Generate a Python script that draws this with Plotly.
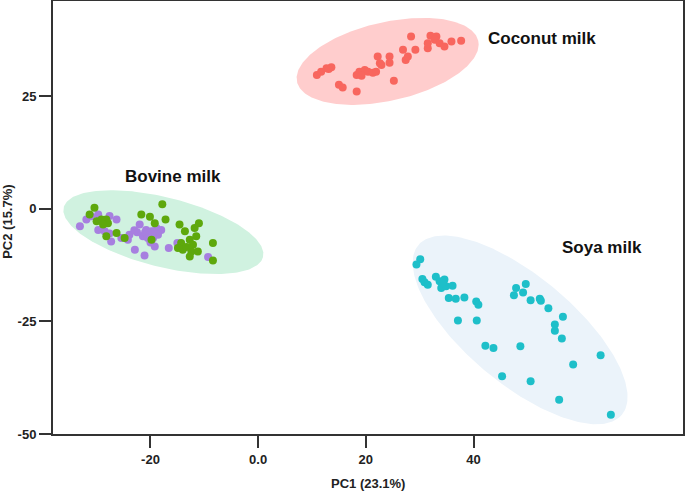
import numpy as np
import plotly.graph_objects as go

# ---------------- data ----------------
coconut_x = [10.9, 11.7, 12.7, 13.6, 13.1, 15.0, 15.7, 18.3, 18.3, 18.8, 19.8, 20.4, 21.3, 21.9,
             19.2, 22.2, 22.6, 22.9, 24.4, 24.4, 25.2, 26.9, 27.4, 27.8, 28.4, 29.2, 31.5, 31.5,
             32.0, 33.1, 32.8, 33.7, 34.6, 35.9, 37.7]
coconut_y = [29.7, 30.4, 31.2, 31.4, 31.0, 27.5, 26.9, 26.0, 29.7, 30.4, 30.8, 30.4, 30.2, 30.4,
             29.5, 33.8, 32.3, 31.9, 33.8, 32.4, 28.4, 35.3, 33.0, 33.8, 38.2, 35.3, 35.6, 36.7,
             38.4, 38.2, 37.5, 36.7, 36.0, 37.1, 37.3]

bovine_green_x = [-30.4, -31.3, -30.0, -29.1, -28.2, -27.9, -28.8, -26.3, -28.2, -24.8, -21.7,
                  -20.1, -19.2, -17.8, -17.2, -19.8, -14.6, -13.6, -11.8, -11.0, -11.5, -12.7,
                  -14.3, -14.9, -14.0, -12.4, -11.2, -12.7, -8.4, -8.4, -12.1, -13.3]
bovine_green_y = [0.2, -1.3, -2.8, -2.4, -2.4, -3.2, -3.5, -5.4, -6.1, -6.5, -1.3,
                  -1.8, -3.2, 1.0, -2.4, -6.9, -3.5, -5.0, -4.3, -3.2, -6.1, -6.9,
                  -7.6, -8.7, -9.1, -9.5, -9.5, -10.6, -7.6, -11.5, -8.0, -8.5]

bovine_purple_x = [-33.1, -31.9, -31.0, -29.7, -27.6, -26.3, -29.7, -28.5, -27.6, -27.3, -23.9,
                   -24.2, -25.4, -22.9, -21.1, -22.0, -20.8, -20.1, -18.9, -18.0, -18.6, -19.5,
                   -21.4, -19.2, -16.6, -15.0, -9.3, -21.0, -20.5, -19.8, -22.5, -20.0, -23.0]
bovine_purple_y = [-3.9, -2.4, -1.7, -1.3, -1.6, -2.4, -4.7, -5.0, -5.5, -7.3, -5.8,
                   -6.9, -6.5, -9.1, -10.4, -3.5, -4.7, -5.8, -4.3, -4.7, -5.8, -6.5,
                   -6.1, -8.4, -8.7, -7.6, -10.7, -5.2, -6.5, -5.0, -5.2, -7.5, -4.8]

soya_x = [30.1, 29.4, 30.5, 30.9, 31.5, 33.0, 33.7, 34.6, 34.0, 34.9, 36.1, 35.4, 36.7, 38.3,
          40.5, 40.9, 37.1, 40.6, 42.2, 43.7, 48.7, 45.3, 50.6, 47.9, 49.7, 49.2, 47.5, 50.6,
          52.3, 52.5, 53.9, 56.6, 55.1, 55.1, 56.4, 58.5, 63.6, 55.9, 65.5, 34.3]
soya_y = [-11.2, -12.4, -15.6, -16.3, -16.9, -15.1, -16.1, -15.7, -17.6, -17.2, -17.1, -19.8,
          -20.0, -19.7, -20.6, -21.3, -24.8, -24.8, -30.4, -30.9, -30.5, -37.2, -38.3, -17.6,
          -16.7, -18.6, -19.2, -20.3, -20.0, -20.4, -22.1, -24.0, -25.7, -27.1, -28.8, -34.6,
          -32.5, -42.4, -45.7, -16.5]

# group ellipses: centre (data units), semi-axes (x-data units), tilt (deg, as drawn)
ellipse_cx = [24.05, -17.6, 48.65]
ellipse_cy = [32.7, -5.2, -26.9]
ellipse_a = [17.25, 19.07, 24.6]
ellipse_b = [7.3, 6.46, 10.0]
ellipse_deg = [12.8, -14.0, -39.8]

group_labels = ["Coconut milk", "Bovine milk", "Soya milk"]
label_x = [52.8, -15.9, 63.8]
label_y = [37.8, 7.2, -8.6]

x_tickvals = [-20, 0, 20, 40]
x_ticktext = ["-20", "0.0", "20", "40"]
y_tickvals = [25, 0, -25, -50]
y_ticktext = ["25", "0", "-25", "-50"]

x_title = "PC1 (23.1%)"
y_title = "PC2 (15.7%)"

# ---------------- layout constants ----------------
X_RANGE = [-38.1, 78.9]
Y_RANGE = [-50, 46.1]
MARGIN = dict(l=53, r=2, t=1, b=57)
W, H = 685, 491
px_per_x = (W - MARGIN["l"] - MARGIN["r"]) / (X_RANGE[1] - X_RANGE[0])
px_per_y = (H - MARGIN["t"] - MARGIN["b"]) / (Y_RANGE[1] - Y_RANGE[0])
ASPECT = px_per_x / px_per_y


def ellipse_path(cx, cy, a, b, deg, n=240):
    t = np.linspace(0, 2 * np.pi, n)
    phi = np.deg2rad(deg)
    u = a * np.cos(t)
    v = b * np.sin(t)
    dx = u * np.cos(phi) - v * np.sin(phi)
    dy = u * np.sin(phi) + v * np.cos(phi)
    return cx + dx, cy + dy * ASPECT


FONT = "Arial, Liberation Sans, sans-serif"

fig = go.Figure()

ell_fills = ["rgba(255,205,205,1)", "rgba(208,242,224,1)", "rgba(235,243,250,1)"]
for cx, cy, a, b, d, fc in zip(ellipse_cx, ellipse_cy, ellipse_a, ellipse_b, ellipse_deg, ell_fills):
    ex, ey = ellipse_path(cx, cy, a, b, d)
    fig.add_trace(go.Scatter(x=ex, y=ey, mode="lines", fill="toself", fillcolor=fc,
                             line=dict(width=0), hoverinfo="skip", showlegend=False))

pt_specs = [
    (coconut_x, coconut_y, "#F8665E"),
    (bovine_purple_x, bovine_purple_y, "#A77FE0"),
    (bovine_green_x, bovine_green_y, "#5EA80C"),
    (soya_x, soya_y, "#1EBFC9"),
]
for xs, ys, c in pt_specs:
    fig.add_trace(go.Scatter(x=xs, y=ys, mode="markers",
                             marker=dict(size=8, color=c, line=dict(width=0)),
                             showlegend=False))

for t, lx, ly in zip(group_labels, label_x, label_y):
    fig.add_annotation(x=lx, y=ly, text=t, showarrow=False,
                       font=dict(family=FONT, size=17, color="#111", weight="bold"),
                       xanchor="center", yanchor="middle")

fig.add_annotation(x=0.5, y=0, xref="paper", yref="paper", text=x_title, showarrow=False,
                   yshift=-49, yanchor="middle", xanchor="center",
                   font=dict(family=FONT, size=13, color="#222", weight="bold"))
fig.add_annotation(x=0, y=0.49, xref="paper", yref="paper", text=y_title, showarrow=False,
                   textangle=-90, xshift=-45, xanchor="center", yanchor="middle",
                   font=dict(family=FONT, size=13, color="#222", weight="bold"))

axis_common = dict(showgrid=False, zeroline=False, showline=True, mirror=True,
                   linecolor="#333", linewidth=2, ticks="outside", ticklen=12,
                   tickwidth=2, tickcolor="#333", automargin=False,
                   tickfont=dict(family=FONT, size=13, color="#222", weight="bold"))

fig.update_layout(
    width=W, height=H, autosize=False,
    margin=MARGIN,
    paper_bgcolor="white", plot_bgcolor="white",
    xaxis=dict(range=X_RANGE, tickvals=x_tickvals, ticktext=x_ticktext, **axis_common),
    yaxis=dict(range=Y_RANGE, tickvals=y_tickvals, ticktext=y_ticktext, **axis_common),
)

fig.write_html("out.html", config={"displayModeBar": False},
               post_script="document.body.style.margin='0px';document.body.style.overflow='hidden';")
